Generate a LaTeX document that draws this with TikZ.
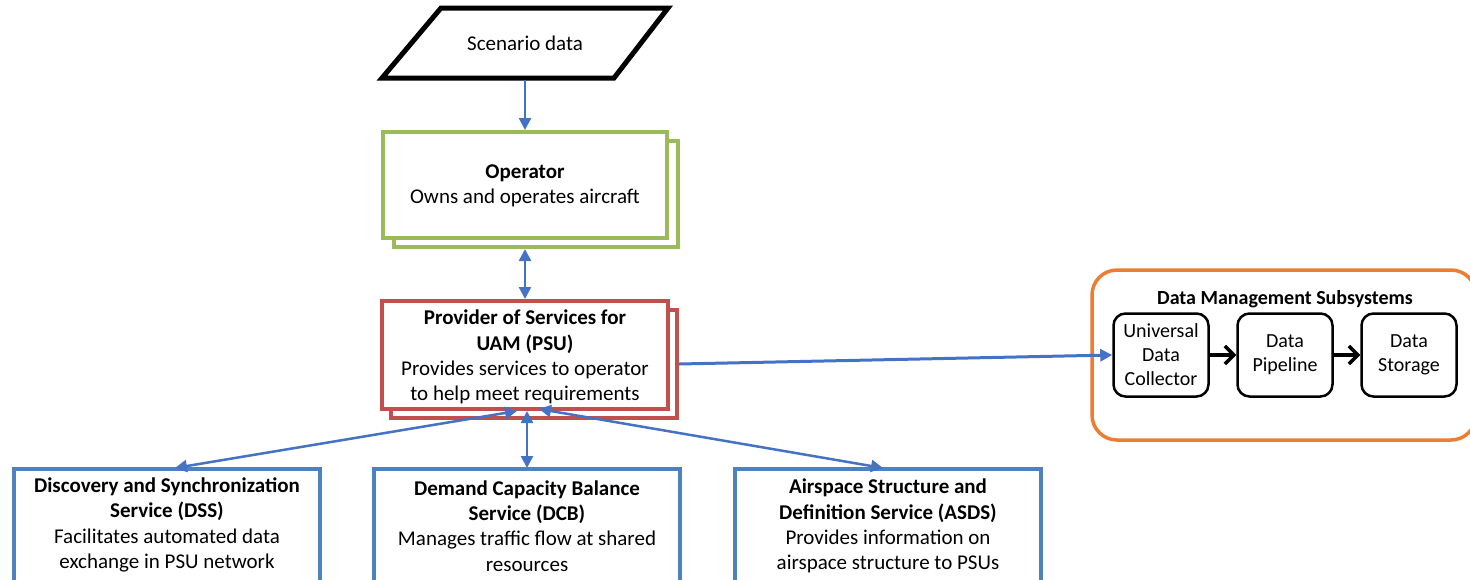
\documentclass[tikz,border=0pt]{standalone}
\usepackage{fontspec}
\setmainfont{Carlito}
\usetikzlibrary{arrows.meta}
\definecolor{arrblue}{HTML}{4472C4}
\definecolor{boxblue}{HTML}{4F81BD}
\definecolor{opgreen}{HTML}{9BBB59}
\definecolor{psured}{HTML}{C0504D}
\definecolor{dmsorange}{HTML}{ED7D31}
\begin{document}
\begin{tikzpicture}[x=1pt,y=-1pt,
  txt/.style={font=\fontsize{21}{25.3}\selectfont, align=center, inner sep=0pt},
  smalltxt/.style={font=\fontsize{20}{24}\selectfont, align=center, inner sep=0pt},
  bluearrow/.style={draw=arrblue, line width=2.5pt, -{Triangle[length=12pt,width=12pt]}},
  bluedouble/.style={draw=arrblue, line width=2.5pt, {Triangle[length=12pt,width=12pt]}-{Triangle[length=12pt,width=12pt]}},
  blackarrow/.style={draw=black, line width=4pt, -{Straight Barb[length=9pt,width=18pt,line width=3.5pt]}},
  greenbox/.style={draw=opgreen, line width=4pt, fill=white, minimum width=284pt, minimum height=106pt, inner sep=0pt},
  redbox/.style={draw=psured, line width=4pt, fill=white, minimum width=286pt, minimum height=108pt, inner sep=0pt},
  servicebox/.style={draw=boxblue, line width=4pt, fill=white, minimum width=306pt, minimum height=130pt, inner sep=0pt},
  dmsbox/.style={draw=black, line width=2.5pt, rounded corners=12pt, minimum width=95pt, minimum height=83pt, inner sep=0pt}
]
\useasboundingbox (0,0) rectangle (1470,579);
\clip (0,0) rectangle (1470,579);

% Scenario data parallelogram
\draw[line width=5pt, line join=miter] (441,8) -- (668,8) -- (614,78) -- (382,78) -- cycle;
\node[txt] (scen) at (525,43) {Scenario data};
\coordinate (scenb) at (525,80);

% Operator
\node[greenbox] (opback) at (536,194) {};
\node[greenbox] (op) at (525,185) {};
\node[txt] (optext) at (525,186) {\textbf{Operator}\\Owns and operates aircraft};

% PSU
\node[redbox] (psuback) at (534,364) {};
\node[redbox] (psu) at (525,355) {};
\node[txt] (psutext) at (525,357) {\textbf{Provider of Services for}\\\textbf{UAM (PSU)}\\Provides services to operator\\to help meet requirements};

% Data management subsystem
\node[draw=dmsorange, line width=3.5pt, rounded corners=25pt, minimum width=384pt, minimum height=170pt, inner sep=0pt] (dms) at (1284,355) {};
\node[font=\fontsize{20}{24}\selectfont\bfseries, inner sep=0pt] (dmstitle) at (1285,299) {Data Management Subsystems};
\node[dmsbox] (udc) at (1161,355) {};
\node[smalltxt] (udctext) at (1161,355) {Universal\\Data\\Collector};
\node[dmsbox] (pipe) at (1285,355) {};
\node[smalltxt] (pipetext) at (1285,355) {Data\\Pipeline};
\node[dmsbox] (stor) at (1409,355) {};
\node[smalltxt] (stortext) at (1409,355) {Data\\Storage};

% service boxes
\node[servicebox] (dss) at (167,534) {};
\node[txt] (dsstext) at (167,525) {\textbf{Discovery and Synchronization}\\\textbf{Service (DSS)}\\Facilitates automated data\\exchange in PSU network};
\node[servicebox] (dcb) at (527,534) {};
\node[txt] (dcbtext) at (527,526) {\textbf{Demand Capacity Balance}\\\textbf{Service (DCB)}\\Manages traffic flow at shared\\resources};
\node[servicebox] (asds) at (888,534) {};
\node[txt] (asdstext) at (888,526) {\textbf{Airspace Structure and}\\\textbf{Definition Service (ASDS)}\\Provides information on\\airspace structure to PSUs};

% hub coordinates on PSU bottom
\coordinate (hubl) at (517,411);
\coordinate (hubc) at (527,411);
\coordinate (hubr) at (539,409);
\coordinate (dsstop) at (175,468);
\coordinate (dcbtop) at (527,468);
\coordinate (asdstop) at (883,468);

% connectors
\draw[bluearrow] (scenb) -- (op.north);
\draw[bluedouble] (opback.south -| op.south) -- (psu.north);
\draw[bluearrow, line width=3pt] (psuback.east) -- (udc.west);
\draw[bluedouble] (hubl) -- (dsstop);
\draw[bluedouble] (hubc) -- (dcbtop);
\draw[bluedouble] (hubr) -- (asdstop);
\draw[blackarrow] (udc.east) -- (pipe.west);
\draw[blackarrow] (pipe.east) -- (stor.west);
\end{tikzpicture}
\end{document}
